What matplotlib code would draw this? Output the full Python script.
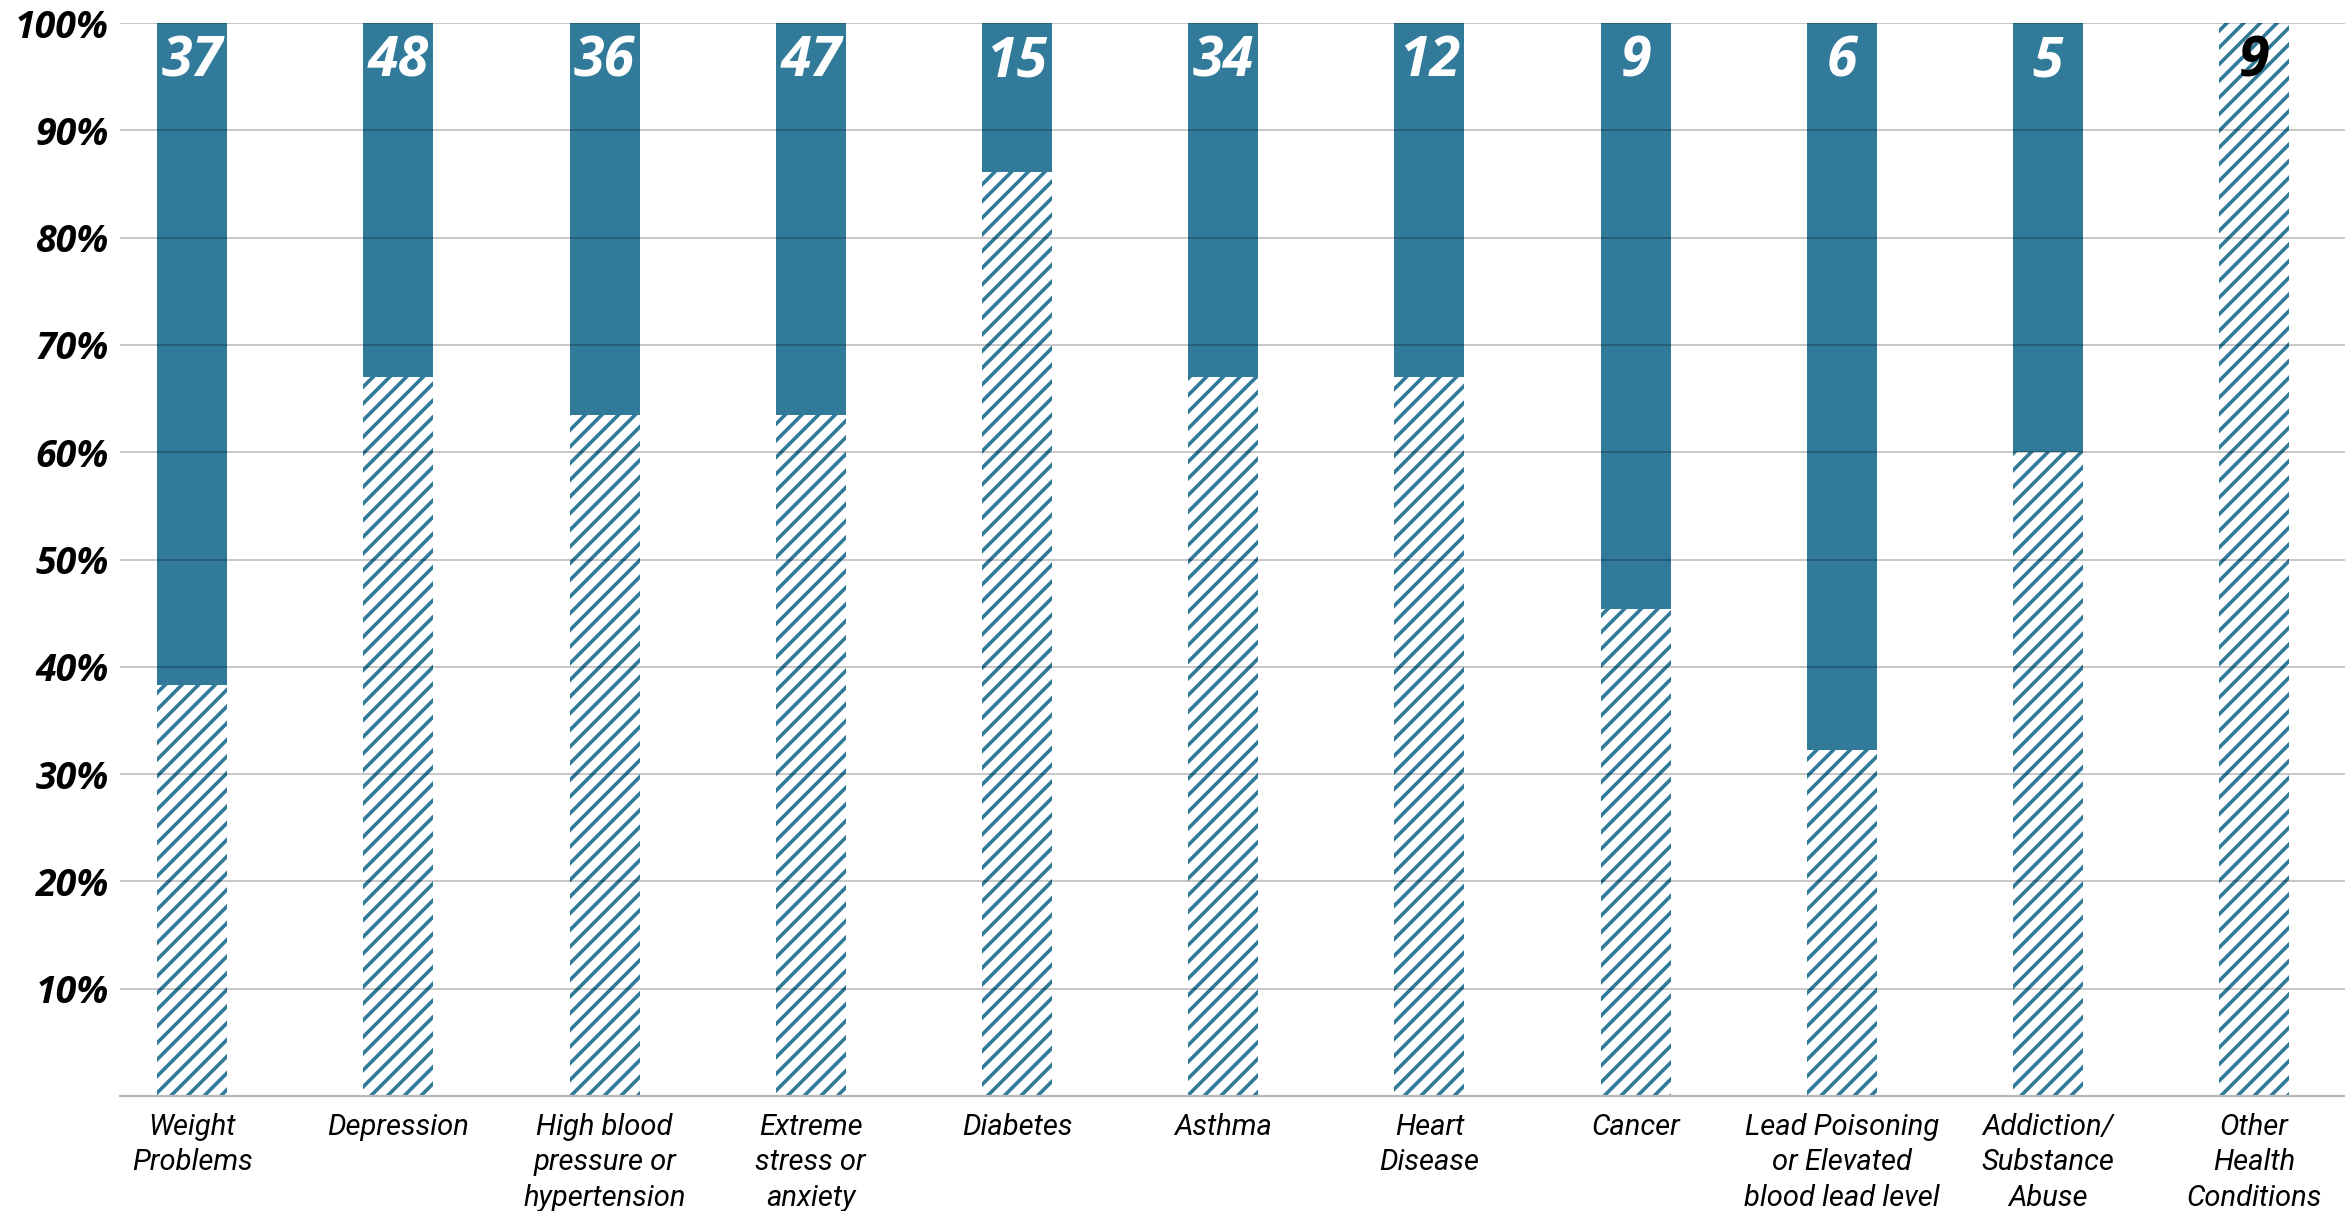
import matplotlib
matplotlib.use("Agg")
import matplotlib.pyplot as plt
import numpy as np

categories = ["Weight\nProblems", "Depression", "High blood\npressure or\nhypertension",
              "Extreme\nstress or\nanxiety", "Diabetes", "Asthma", "Heart\nDisease",
              "Cancer", "Lead Poisoning\nor Elevated\nblood lead level",
              "Addiction/\nSubstance\nAbuse", "Other\nHealth\nConditions"]
hatched_pct = [38.3, 67.0, 63.5, 63.5, 86.1, 67.0, 67.0, 45.4, 32.2, 60.0, 100.0]
counts = [37, 48, 36, 47, 15, 34, 12, 9, 6, 5, 9]
yticks = [10, 20, 30, 40, 50, 60, 70, 80, 90, 100]
ytick_labels = ["10%", "20%", "30%", "40%", "50%", "60%", "70%", "80%", "90%", "100%"]

BLUE = "#317a99"
plt.rcParams['hatch.linewidth'] = 2.6
plt.rcParams['hatch.color'] = BLUE

fig = plt.figure(figsize=(23.45, 12.11), dpi=100)
ax = fig.add_axes([120/2345, 1 - 1096/1211, 1 - 120/2345, (1096 - 23)/1211])

x = np.arange(len(categories))
solid = [100 - h for h in hatched_pct]
w = 0.34
ax.bar(x, hatched_pct, width=w, color="white", edgecolor=BLUE, hatch="//", linewidth=0, zorder=2)
ax.bar(x, solid, bottom=hatched_pct, width=w, color=BLUE, linewidth=0, zorder=2)

for xi, c, s in zip(x, counts, solid):
    ax.annotate(str(c), (xi, 100), xytext=(0, -8), textcoords="offset points",
                ha="center", va="top", fontsize=40, fontweight="bold", fontstyle="italic",
                family=["Open Sans", "DejaVu Sans"], color="white" if s > 0 else "black", zorder=5)

ax.set_xlim(-0.35, 10.44)
ax.set_ylim(0, 100)
ax.set_yticks(yticks)
ax.set_yticklabels(ytick_labels, fontsize=27, fontweight="bold", fontstyle="italic",
                   family=["Open Sans", "DejaVu Sans"])
ax.set_xticks(x)
ax.set_xticklabels(categories, fontsize=21, fontstyle="italic", family=["Roboto", "DejaVu Sans"],
                   linespacing=1.35)
ax.tick_params(axis="both", length=0)
ax.tick_params(axis="y", pad=8)
ax.tick_params(axis="x", pad=12)

for t in yticks:
    ax.axhline(t, color="black", alpha=0.22, lw=1.4, zorder=3)
for sp in ["top", "right", "left"]:
    ax.spines[sp].set_visible(False)
ax.spines["bottom"].set_color("#b8b8b8")
ax.spines["bottom"].set_linewidth(1.6)

fig.savefig("out.png", dpi=100)
